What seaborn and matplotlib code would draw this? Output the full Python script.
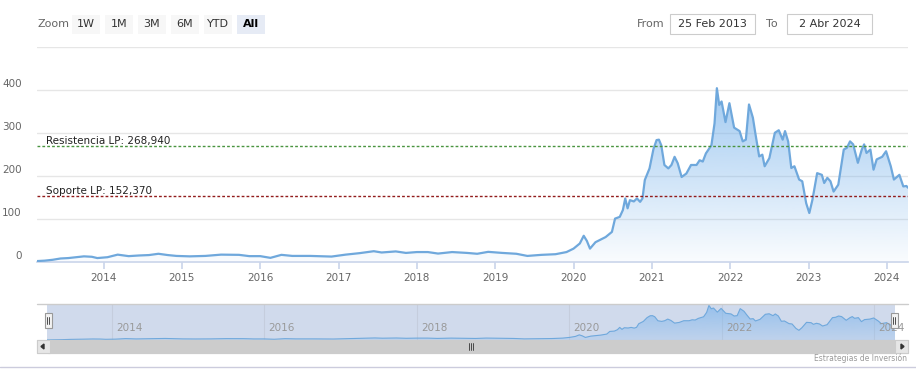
#!/usr/bin/env python3
"""
Stock-style area chart with long term support / resistance lines,
a navigator strip and a scrollbar underneath.
"""

import numpy as np
import pandas as pd
import seaborn as sns
import matplotlib.pyplot as plt
from matplotlib.colors import to_rgb
from matplotlib.patches import Rectangle, FancyBboxPatch, Polygon

# data (decimal years, price)
years = [
    2013.15, 2013.25, 2013.35, 2013.45, 2013.55, 2013.65, 2013.75, 2013.85, 2013.92,
    2014.05, 2014.18, 2014.32, 2014.45, 2014.58, 2014.70, 2014.82, 2014.93,
    2015.10, 2015.30, 2015.50, 2015.73, 2015.86, 2016.00, 2016.13, 2016.27,
    2016.41, 2016.64, 2016.91, 2017.09, 2017.27, 2017.45, 2017.55, 2017.73,
    2017.86, 2018.00, 2018.14, 2018.27, 2018.45, 2018.64, 2018.77, 2018.91,
    2019.09, 2019.27, 2019.41, 2019.59, 2019.77, 2019.91, 2020.00, 2020.08,
    2020.13, 2020.17, 2020.21, 2020.28, 2020.41, 2020.49, 2020.53, 2020.59,
    2020.63, 2020.66, 2020.69, 2020.72, 2020.77, 2020.81, 2020.85, 2020.88,
    2020.91, 2020.97, 2021.02, 2021.06, 2021.09, 2021.12, 2021.16, 2021.21,
    2021.25, 2021.29, 2021.33, 2021.38, 2021.44, 2021.50, 2021.57, 2021.61,
    2021.65, 2021.69, 2021.76, 2021.80, 2021.83, 2021.86, 2021.89, 2021.94,
    2021.99, 2022.05, 2022.12, 2022.16, 2022.20, 2022.24, 2022.29, 2022.32,
    2022.37, 2022.41, 2022.44, 2022.50, 2022.57, 2022.62, 2022.67, 2022.70,
    2022.74, 2022.78, 2022.82, 2022.88, 2022.92, 2022.97, 2023.01, 2023.05,
    2023.11, 2023.17, 2023.20, 2023.24, 2023.28, 2023.32, 2023.38, 2023.45,
    2023.49, 2023.53, 2023.57, 2023.63, 2023.68, 2023.71, 2023.74, 2023.79,
    2023.83, 2023.87, 2023.94, 2023.99, 2024.05, 2024.09, 2024.16, 2024.21,
    2024.25, 2024.27,
]
prices = [
    1, 2, 4, 7, 8, 10, 12, 11, 8,
    10, 16, 12.5, 14, 15, 18, 15, 13,
    12, 13, 16, 15.5, 12.5, 12.5, 8.5, 15.5,
    13, 13, 11.5, 16, 19.5, 24, 21, 23.5,
    20, 22, 22, 18.5, 22, 20, 18, 22.5,
    20, 18, 13, 15.5, 17, 22, 30, 42,
    60, 48, 30, 45, 57, 69, 100, 104,
    120, 147, 124, 143, 140, 147, 139, 147,
    190, 217, 262, 283, 284, 271, 225, 217,
    225, 244, 229, 197, 205, 225, 225, 236,
    233, 252, 271, 322, 404, 365, 373, 325,
    369, 312, 304, 280, 284, 366, 335, 300,
    245, 249, 222, 241, 300, 306, 284, 304,
    280, 218, 222, 191, 187, 136, 113, 144,
    206, 202, 183, 195, 187, 163, 179, 261,
    265, 280, 273, 230, 261, 273, 253, 261,
    214, 238, 244, 257, 222, 191, 202, 175,
    176, 172,
]

resistance = 268.94
support = 152.37
resistance_label = "Resistencia LP: 268,940"
support_label = "Soporte LP: 152,370"

y_ticks = [0, 100, 200, 300, 400]
x_ticks = list(range(2014, 2025))
nav_ticks = [2014, 2016, 2018, 2020, 2022, 2024]
zoom_buttons = ["1W", "1M", "3M", "6M", "YTD", "All"]
date_from = "25 Feb 2013"
date_to = "2 Abr 2024"
credit = "Estrategias de Inversión"

df = pd.DataFrame({"year": years, "price": prices})

W, H = 916, 381
LINE = "#6fa8dc"
FILL = "#7cb5ec"


def fx(px):
    return px / W


def fy(py):
    return 1 - py / H


def gradient_area(axis, top, a_top, a_bottom):
    # area under the series, filled with a vertical alpha gradient
    x0, x1 = years[0], years[-1]
    poly = Polygon(
        np.column_stack([[x0] + years + [x1], [0] + prices + [0]]),
        closed=True, facecolor="none", edgecolor="none",
    )
    axis.add_patch(poly)
    rgba = np.zeros((256, 1, 4))
    rgba[..., :3] = to_rgb(FILL)
    rgba[..., 3] = np.linspace(a_top, a_bottom, 256).reshape(-1, 1)
    img = axis.imshow(rgba, extent=[x0, x1, 0, top], origin="upper",
                      aspect="auto", zorder=2)
    img.set_clip_path(poly)


sns.set_theme(style="white")
plt.rcParams["font.family"] = ["DejaVu Sans"]

fig = plt.figure(figsize=(W / 100, H / 100), dpi=100)

# ---- main chart
ax = fig.add_axes([fx(37), fy(261.5), fx(871), 214.5 / H])
x0, x1 = years[0], years[-1]

for v in [100, 200, 300, 400, 500]:
    ax.axhline(v, color="#e6e6e6", lw=1, zorder=0)

gradient_area(ax, 410, 0.72, 0.04)
sns.lineplot(data=df, x="year", y="price", ax=ax, color=LINE, lw=1.6,
             zorder=3, legend=False)
ax.set_xlim(x0, x1)
ax.set_ylim(0, 500)

ax.axhline(resistance, color="#4a9440", lw=1, ls=(0, (2, 1.5)), zorder=4)
ax.axhline(support, color="#921c1c", lw=1, ls=(0, (2, 1.5)), zorder=4)
ax.annotate(resistance_label, (x0, resistance), xytext=(6.5, 1.5),
            textcoords="offset points", fontsize=7.5, color="#222222")
ax.annotate(support_label, (x0, support), xytext=(6.5, 1.5),
            textcoords="offset points", fontsize=7.5, color="#222222")

ax.set_xlabel("")
ax.set_ylabel("")
ax.set_xticks(x_ticks)
ax.set_xticklabels([str(t) for t in x_ticks], fontsize=7.5, color="#666666")
ax.tick_params(axis="x", length=5, color="#ccd6eb", pad=3, bottom=True)
ax.set_yticks([])
for v in y_ticks:
    ax.annotate(str(v), (0, v), xycoords=("axes fraction", "data"),
                xytext=(-11, 4), textcoords="offset points", ha="right",
                va="center", fontsize=7.5, color="#666666")
for side in ["top", "left", "right"]:
    ax.spines[side].set_visible(False)
ax.spines["bottom"].set_color("#ccd6eb")

# ---- navigator
nav = fig.add_axes([fx(47), fy(340), fx(848), 36 / H])
nav.axvspan(x0, x1, color=(102 / 255, 133 / 255, 194 / 255, 0.3), lw=0, zorder=0)
for t in nav_ticks:
    nav.axvline(t, color="#c5cddd", lw=0.8, zorder=1)
    nav.annotate(str(t), (t, 0), xytext=(3, 5), textcoords="offset points",
                 fontsize=7.5, color="#999999", ha="left", va="bottom",
                 zorder=5)
gradient_area(nav, 410, 0.7, 0.2)
sns.lineplot(data=df, x="year", y="price", ax=nav, color=LINE, lw=0.8,
             zorder=3, legend=False)
nav.set_xlim(x0, x1)
nav.set_ylim(0, 420)
nav.set_xlabel("")
nav.set_ylabel("")
nav.set_xticks([])
nav.set_yticks([])
for s in nav.spines.values():
    s.set_visible(False)

# outline line on top of the navigator
fig.add_artist(plt.Line2D([fx(37), fx(908)], [fy(304), fy(304)],
                          color="#cccccc", lw=1))

# handles
for hx in [48, 894]:
    fig.add_artist(Rectangle((fx(hx - 3.5), fy(328)), fx(7), 15 / H,
                             facecolor="#f2f2f2", edgecolor="#999999", lw=0.8))
    for dx in [-1, 1]:
        fig.add_artist(plt.Line2D([fx(hx + dx), fx(hx + dx)],
                                  [fy(317), fy(324)], color="#333333", lw=0.6))

# ---- scrollbar
fig.add_artist(Rectangle((fx(37), fy(353)), fx(871), 13 / H,
                         facecolor="#f2f2f2", edgecolor="#cccccc", lw=0.8))
fig.add_artist(Rectangle((fx(48), fy(353)), fx(847), 13 / H,
                         facecolor="#cccccc", edgecolor="#cccccc", lw=0.8))
for bx in [37, 895]:
    fig.add_artist(Rectangle((fx(bx), fy(353)), fx(13), 13 / H,
                             facecolor="#e6e6e6", edgecolor="#cccccc", lw=0.8))
fig.add_artist(Polygon([[fx(41), fy(346.5)], [fx(44), fy(344)], [fx(44), fy(349)]],
                       closed=True, color="#333333"))
fig.add_artist(Polygon([[fx(904), fy(346.5)], [fx(901), fy(344)], [fx(901), fy(349)]],
                       closed=True, color="#333333"))
for dx in [-2, 0, 2]:
    fig.add_artist(plt.Line2D([fx(471 + dx), fx(471 + dx)], [fy(343), fy(350)],
                              color="#333333", lw=0.6))

fig.text(fx(907), fy(358), credit, ha="right", va="center",
         fontsize=5.5, color="#999999")
fig.add_artist(plt.Line2D([0, 1], [fy(367), fy(367)], color="#ccccdd", lw=1))

# ---- range selector
fig.text(fx(37), fy(24), "Zoom", ha="left", va="center", fontsize=8,
         color="#666666")
for i, lab in enumerate(zoom_buttons):
    bx = 72 + 33 * i
    sel = lab == "All"
    fig.add_artist(FancyBboxPatch((fx(bx), fy(34)), fx(28), 19 / H,
                                  boxstyle="square,pad=0", lw=0,
                                  facecolor="#e6ebf5" if sel else "#f7f7f7"))
    fig.text(fx(bx + 14), fy(24), lab, ha="center", va="center", fontsize=8,
             color="#000000" if sel else "#333333",
             fontweight="bold" if sel else "normal")

fig.text(fx(637), fy(24), "From", ha="left", va="center", fontsize=8,
         color="#666666")
fig.text(fx(766), fy(24), "To", ha="left", va="center", fontsize=8,
         color="#666666")
for bx, txt in [(670, date_from), (787, date_to)]:
    fig.add_artist(Rectangle((fx(bx), fy(34)), fx(85), 20 / H,
                             facecolor="white", edgecolor="#cccccc", lw=0.8))
    fig.text(fx(bx + 42.5), fy(24), txt, ha="center", va="center",
             fontsize=8, color="#333333")

fig.savefig("out.png", dpi=100)
